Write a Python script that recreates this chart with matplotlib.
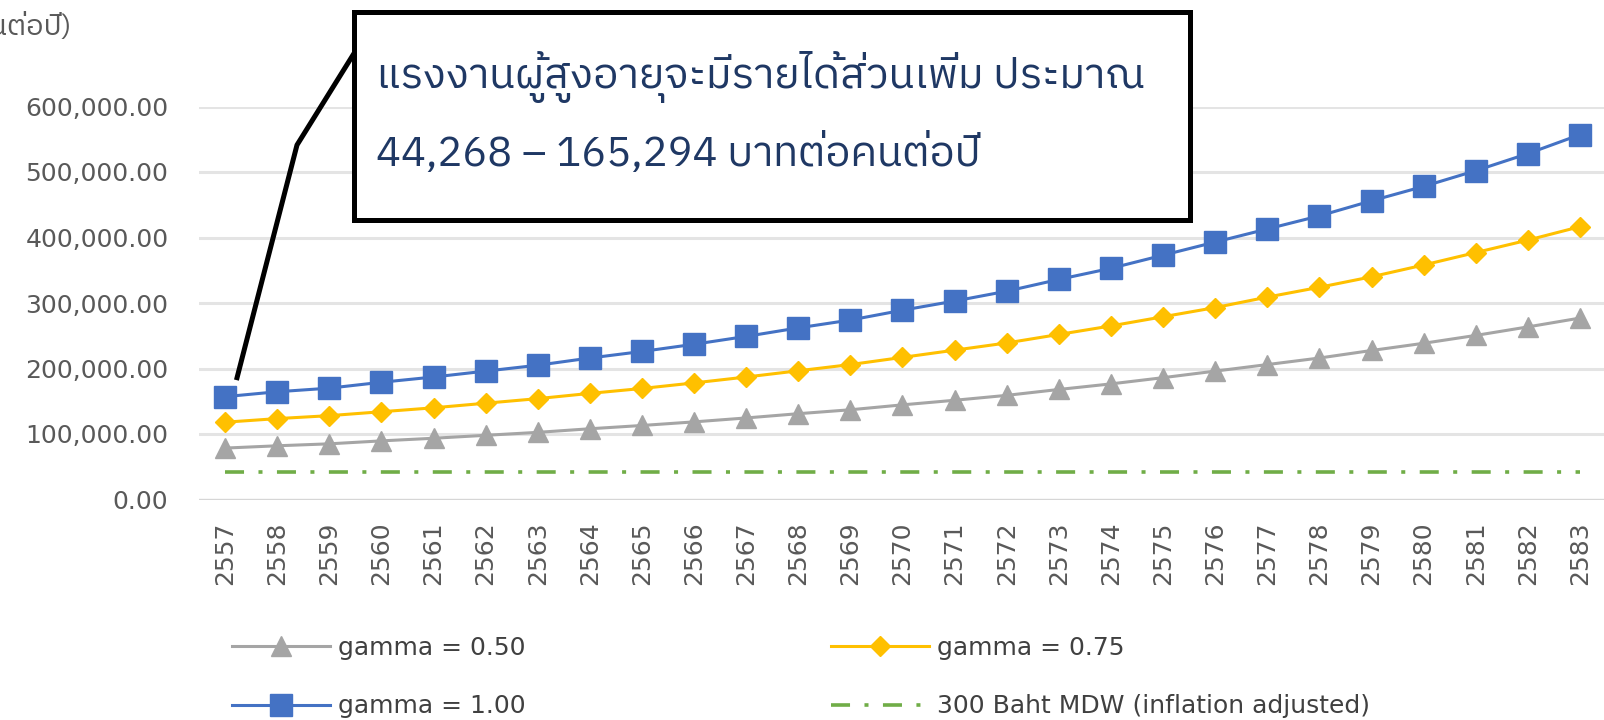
import numpy as np
import matplotlib
matplotlib.use("Agg")
import matplotlib.pyplot as plt
import matplotlib.font_manager as fm
from matplotlib.ft2font import FT2Font
from matplotlib.lines import Line2D
from matplotlib.patches import Rectangle

# data
years = [str(y) for y in range(2557, 2584)]
gamma_050 = [78500, 82000, 85000, 89500, 93500, 98000, 102500, 108000, 113000, 118500,
             124500, 131000, 137000, 144500, 151500, 159000, 168000, 176500, 186000, 196000,
             206000, 216000, 227500, 238500, 250500, 263500, 277000]
gamma_075 = [118000, 123500, 128000, 134000, 140000, 147000, 154000, 162000, 169500, 178000,
             187000, 196500, 206000, 217000, 228000, 239000, 252000, 265000, 279000, 293000,
             309000, 324000, 340000, 358000, 377000, 396000, 416500]
gamma_100 = [157000, 164500, 170000, 179000, 187000, 196000, 205000, 216000, 226000, 237000,
             249000, 262000, 274000, 289000, 303000, 318000, 336000, 353000, 373000, 393000,
             413000, 433000, 456000, 478000, 502000, 528000, 557000]
mdw_300 = [42000, 42000, 42000, 42000, 42000, 42000, 42000, 42000, 42000, 42000,
           42000, 42000, 42000, 42000, 42000, 42000, 42000, 42000, 42000, 42000,
           42000, 42000, 42000, 42000, 42000, 42000, 42000]

labels = ["gamma = 0.50", "gamma = 0.75", "gamma = 1.00", "300 Baht MDW (inflation adjusted)"]
note1 = "แรงงานผู้สูงอายุจะมีรายได้ส่วนเพิ่ม ประมาณ"
note2 = "44,268 – 165,294 บาทต่อคนต่อปี"
unit = "(บาทต่อคนต่อปี)"


def thai_font():
    found = []
    for f in fm.fontManager.ttflist:
        try:
            cmap = FT2Font(f.fname).get_charmap()
        except Exception:
            continue
        if 0x0E01 in cmap and 0x0E48 in cmap:
            score = 0 if "Thai" in f.name else 1
            if str(f.weight) not in ("400", "normal", "regular"):
                score += 2
            if f.style != "normal":
                score += 4
            found.append((score, f.name))
    found.sort()
    return found[0][1] if found else "DejaVu Sans"


thai = [thai_font(), "DejaVu Sans"]

plt.rcParams["font.family"] = "DejaVu Sans"
plt.rcParams["lines.scale_dashes"] = False

W, H = 1604, 720
fig = plt.figure(figsize=(W / 100, H / 100), dpi=100)
ax = fig.add_axes([199 / W, 1 - 499.5 / H, (1606 - 199) / W, (499.5 - 106.5) / H])

x = np.arange(len(years))
l050, = ax.plot(x, gamma_050, color="#A5A5A5", lw=2.2, marker="^", ms=14, label=labels[0], clip_on=False, zorder=3)
l075, = ax.plot(x, gamma_075, color="#FFC000", lw=2.2, marker="D", ms=10.5, label=labels[1], clip_on=False, zorder=3)
l100, = ax.plot(x, gamma_100, color="#4472C4", lw=2.2, marker="s", ms=16, label=labels[2], clip_on=False, zorder=3)
lmdw, = ax.plot(x, mdw_300, color="#70AD47", lw=2.6, dashes=(13.7, 10.4, 2.9, 10.4), label=labels[3], zorder=3)

ax.set_xlim(-0.5, len(years) - 0.5)
ax.set_ylim(0, 600000)
ax.set_yticks(np.arange(0, 600001, 100000))
ax.yaxis.set_major_formatter(matplotlib.ticker.FuncFormatter(lambda v, p: f"{v:,.2f}"))
ax.set_xticks(x)
ax.set_xticklabels(years, rotation=90)
ax.tick_params(length=0, labelsize=18, labelcolor="#595959")
ax.tick_params(axis="y", pad=22)
ax.tick_params(axis="x", pad=16)
for s in ax.spines.values():
    s.set_visible(False)
ax.yaxis.grid(True, color="#E4E4E4", lw=2.2)
ax.axhline(0, color="#D6D6D6", lw=2.4, zorder=1)
ax.set_axisbelow(True)

# legend fills column by column: order so rows read 0.50 | 0.75, 1.00 | MDW
fig.legend([l050, l100, l075, lmdw], [labels[0], labels[2], labels[1], labels[3]],
           loc="upper left", bbox_to_anchor=(231.7 / W, 1 - 636 / H), ncol=2, frameon=False,
           fontsize=18, handlelength=3.95, handletextpad=0.3, columnspacing=12.2,
           labelspacing=1.37, borderpad=0, borderaxespad=0, labelcolor="#404040")

fig.text(72 / W, 1 - 27 / H, unit, ha="right", va="center", fontsize=21,
         color="#595959", family=thai)

# callout box and its pointer
fig.patches.append(Rectangle((354 / W, 1 - 220 / H), 836 / W, 208 / H, transform=fig.transFigure,
                             facecolor="white", edgecolor="black", lw=3.6, zorder=5))
px, py = ax.transData.transform((0, gamma_100[0]))
fig.lines.append(Line2D([353 / W, 297 / W, (px + 12) / W], [1 - 55 / H, 1 - 145 / H, (py + 19) / H],
                        transform=fig.transFigure, color="black", lw=3.6, zorder=4))
fig.text(376.5 / W, 1 - 77 / H, note1, ha="left", va="center", fontsize=30.5,
         color="#1F3864", family=thai, zorder=6)
fig.text(376.5 / W, 1 - 153 / H, note2, ha="left", va="center", fontsize=30,
         color="#1F3864", family=thai, zorder=6)

fig.savefig("out.png", dpi=100)
